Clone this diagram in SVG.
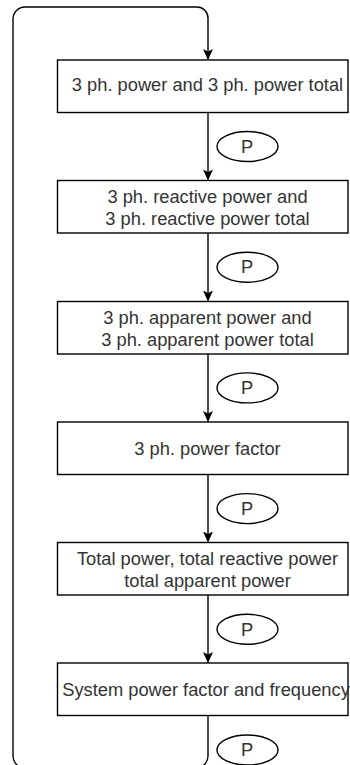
<svg xmlns="http://www.w3.org/2000/svg" width="350" height="765" viewBox="0 0 350 765">
<style>
.box{fill:#fff;stroke:#000;stroke-width:1.4}
.ln{fill:none;stroke:#000;stroke-width:1.4}
.t{font-family:"Liberation Sans",Arial,sans-serif;font-size:18.3px;fill:#333;text-anchor:middle}
.ell{fill:#fff;stroke:#000;stroke-width:1.4}
</style>
<defs>
<marker id="arr" viewBox="0 -6 12 12" refX="10" refY="0" markerWidth="12" markerHeight="12" markerUnits="userSpaceOnUse" orient="auto">
<path d="M11 0 L0 -5 L2.5 0 L0 5 Z" fill="#000"/>
</marker>
</defs>
<rect width="350" height="765" fill="#fff"/>
<g id="connectors">
<path class="ln" d="M208 715.5 V756 A12 12 0 0 1 196 768 H25 A12 12 0 0 1 13 756 V19 A12 12 0 0 1 25 7 H197 A11 11 0 0 1 208 18 V59" marker-end="url(#arr)"/>
<path class="ln" d="M208 112.5 V179.5" marker-end="url(#arr)"/>
<path class="ln" d="M208 233 V300.5" marker-end="url(#arr)"/>
<path class="ln" d="M208 354 V421" marker-end="url(#arr)"/>
<path class="ln" d="M208 474.5 V541.5" marker-end="url(#arr)"/>
<path class="ln" d="M208 595 V662" marker-end="url(#arr)"/>
</g>
<g id="p1"><ellipse class="ell" cx="247.5" cy="146.5" rx="30.5" ry="15"/><text class="t" x="247" y="152.7">P</text></g>
<g id="p2"><ellipse class="ell" cx="247.5" cy="267.2" rx="30.5" ry="15"/><text class="t" x="247" y="273.4">P</text></g>
<g id="p3"><ellipse class="ell" cx="247.5" cy="387.9" rx="30.5" ry="15"/><text class="t" x="247" y="394.1">P</text></g>
<g id="p4"><ellipse class="ell" cx="247.5" cy="508.6" rx="30.5" ry="15"/><text class="t" x="247" y="514.8">P</text></g>
<g id="p5"><ellipse class="ell" cx="247.5" cy="629.3" rx="30.5" ry="15"/><text class="t" x="247" y="635.5">P</text></g>
<g id="p6"><ellipse class="ell" cx="247.5" cy="750" rx="30.5" ry="15"/><text class="t" x="247" y="756.2">P</text></g>
<g id="n1"><rect class="box" x="57.5" y="60" width="290.5" height="52.5"/><text class="t" x="207.5" y="91">3 ph. power and 3 ph. power total</text></g>
<g id="n2"><rect class="box" x="57.5" y="180.5" width="290.5" height="52.5"/><text class="t" x="207.5" y="203.3">3 ph. reactive power and</text><text class="t" x="207.5" y="225">3 ph. reactive power total</text></g>
<g id="n3"><rect class="box" x="57.5" y="301.5" width="290.5" height="52.5"/><text class="t" x="207.5" y="324">3 ph. apparent power and</text><text class="t" x="207.5" y="345.7">3 ph. apparent power total</text></g>
<g id="n4"><rect class="box" x="57.5" y="422" width="290.5" height="52.5"/><text class="t" x="207.5" y="455">3 ph. power factor</text></g>
<g id="n5"><rect class="box" x="57.5" y="542.5" width="290.5" height="52.5"/><text class="t" x="207.5" y="565">Total power, total reactive power</text><text class="t" x="207.5" y="586.7">total apparent power</text></g>
<g id="n6"><rect class="box" x="57.5" y="663" width="290.5" height="52.5"/><text class="t" x="206" y="695.7">System power factor and frequency</text></g>
</svg>
